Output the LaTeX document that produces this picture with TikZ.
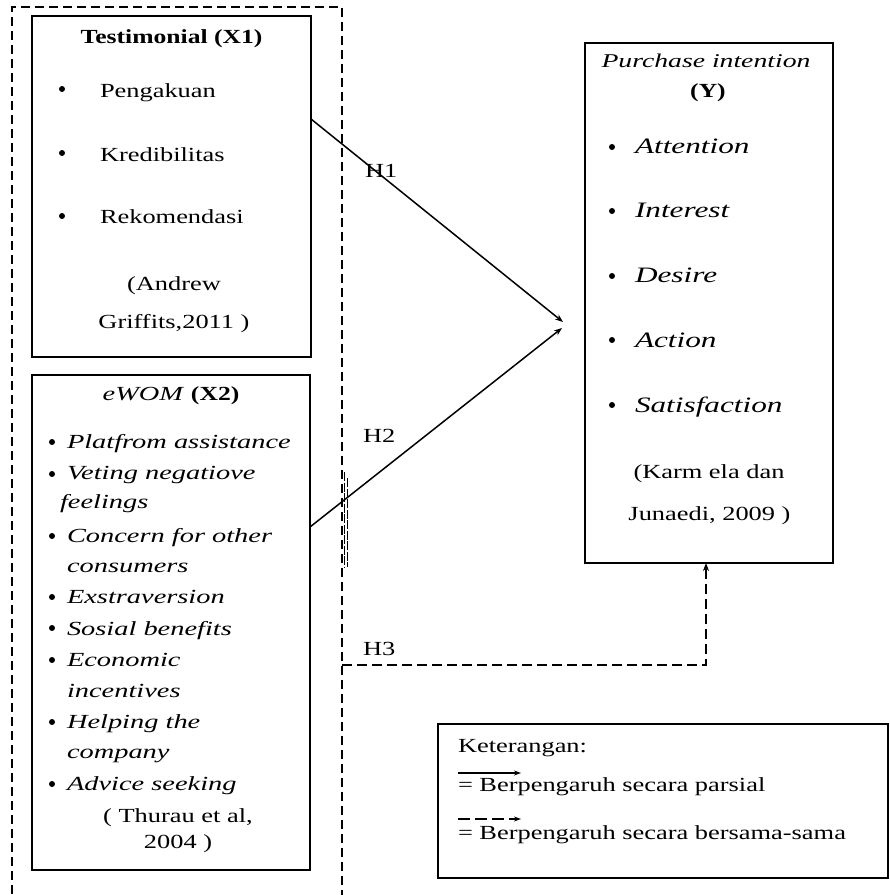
\documentclass[tikz,border=0pt]{standalone}
\usepackage{fontspec}
\setmainfont{Liberation Serif}[UprightFeatures={FakeStretch=1.32},BoldFeatures={FakeStretch=1.28},ItalicFeatures={FakeStretch=1.42}]
\usetikzlibrary{arrows.meta}
\begin{document}
\begin{tikzpicture}[x=1pt,y=-1pt,
  every node/.style={font=\fontsize{20}{24}\selectfont, inner sep=0pt, outer sep=0pt},
  box/.style={draw, line width=1.6pt, rectangle},
  outerbox/.style={draw, line width=1.5pt, dash pattern=on 9pt off 5pt, rectangle},
  tl/.style={anchor=base west},
  tc/.style={anchor=base},
  bul/.style={circle, fill, minimum size=6pt},
  conn/.style={line width=1.5pt, -{Stealth[length=8pt,width=6pt]}},
  dconn/.style={line width=1.5pt, dash pattern=on 10pt off 5pt, -{Stealth[length=8pt,width=6pt]}},
  big/.style={font=\fontsize{22}{26}\selectfont}
]
\useasboundingbox (0,0) rectangle (890,895);
\fill[white] (0,0) rectangle (890,895);

% boxes
\node[outerbox, minimum width=330pt, minimum height=898pt] (O) at (177,456) {};
\node[box, minimum width=279pt, minimum height=341pt] (T) at (171.5,186.5) {};
\node[box, minimum width=278pt, minimum height=495pt] (E) at (171,622.5) {};
\node[box, minimum width=248pt, minimum height=520pt] (Y) at (709,303) {};
\node[box, line width=1.8pt, minimum width=450pt, minimum height=154pt] (L) at (663,801) {};

% Testimonial box
\node[tc] (t0) at (171.5,43) {\textbf{Testimonial (X1)}};
\node[bul] (tb1) at (62,89) {};
\node[bul] (tb2) at (62,153) {};
\node[bul] (tb3) at (62,216) {};
\node[tl] (t1) at (100,97) {Pengakuan};
\node[tl] (t2) at (100,161) {Kredibilitas};
\node[tl] (t3) at (100,223) {Rekomendasi};
\node[tc] (t4) at (174,290) {(Andrew};
\node[tc] (t5) at (174,328) {Griffits,2011 )};

% eWOM box
\node[tc] (e0) at (171,400) {\textit{eWOM} \textbf{(X2)}};
\node[bul] (eb1) at (52,442) {};
\node[bul] (eb2) at (52,474) {};
\node[bul] (eb3) at (52,536) {};
\node[bul] (eb4) at (52,597) {};
\node[bul] (eb5) at (52,628) {};
\node[bul] (eb6) at (52,660) {};
\node[bul] (eb7) at (52,722) {};
\node[bul] (eb8) at (52,784) {};
\node[tl] (e1) at (67,448) {\itshape Platfrom assistance};
\node[tl] (e2) at (67,479) {\itshape Veting negatiove};
\node[tl] (e3) at (60,508) {\itshape feelings};
\node[tl] (e4) at (67,542) {\itshape Concern for other};
\node[tl] (e5) at (67,572) {\itshape consumers};
\node[tl] (e6) at (67,603) {\itshape Exstraversion};
\node[tl] (e7) at (67,635) {\itshape Sosial benefits};
\node[tl] (e8) at (67,666) {\itshape Economic};
\node[tl] (e9) at (67,697) {\itshape incentives};
\node[tl] (e10) at (67,728) {\itshape Helping the};
\node[tl] (e11) at (67,758) {\itshape company};
\node[tl] (e12) at (67,790) {\itshape Advice seeking};
\node[tc] (e13) at (178,822) {( Thurau et al,};
\node[tc] (e14) at (178,848) {2004 )};

% Purchase intention box
\node[tc, font=\fontsize{19.5}{24}\selectfont] (y0) at (706,67) {\textit{Purchase intention}};
\node[tc] (y1) at (708,97) {\textbf{(Y)}};
\node[bul] (yb1) at (612,147) {};
\node[bul] (yb2) at (612,211) {};
\node[bul] (yb3) at (612,276) {};
\node[bul] (yb4) at (612,340) {};
\node[bul] (yb5) at (612,405) {};
\node[tl, big] (y2) at (635,153) {\itshape Attention};
\node[tl, big] (y3) at (635,217) {\itshape Interest};
\node[tl, big] (y4) at (635,282) {\itshape Desire};
\node[tl, big] (y5) at (635,347) {\itshape Action};
\node[tl, big] (y6) at (635,412) {\itshape Satisfaction};
\node[tc] (y7) at (709,478) {(Karm ela dan};
\node[tc] (y8) at (709.5,520) {Junaedi, 2009 )};

% hypothesis labels
\node[tl] (H1) at (365,177) {H1};
\node[tl] (H2) at (363,442) {H2};
\node[tl] (H3) at (363,655) {H3};

% connectors
\coordinate (h1a) at (311,119);
\coordinate (tip1) at (563,322);
\coordinate (h2a) at (310,527);
\coordinate (tip2) at (562,328);
\coordinate (h3a) at (342,665);
\coordinate (h3c) at (706,665);
\draw[conn] (T.east |- h1a) -- (tip1);
\draw[conn] (E.east |- h2a) -- (tip2);
\draw[dconn] (O.east |- h3a) -- (h3c) -- (Y.south -| h3c);

% small double-line artefact next to the dashed frame
\coordinate (da) at (344.5,472);
\coordinate (db) at (344.5,567);
\coordinate (dc) at (347,478);
\coordinate (dd) at (347,567);
\draw[line width=0.9pt, dash pattern=on 9pt off 1.5pt] (da) -- (db);
\draw[line width=0.9pt, dash pattern=on 9pt off 1.5pt] (dc) -- (dd);

% legend
\node[tl] (k0) at (458,752) {Keterangan:};
\coordinate (la1) at (458,773);
\coordinate (la2) at (521,773);
\draw[line width=1.3pt, -{Stealth[length=7pt,width=5pt]}] (la1) -- (la2);
\node[tl] (k1) at (458,791) {= Berpengaruh secara parsial};
\coordinate (lb1) at (458,819);
\coordinate (lb2) at (521,819);
\draw[line width=1.3pt, dash pattern=on 12pt off 5pt, -{Stealth[length=7pt,width=5pt]}] (lb1) -- (lb2);
\node[tl] (k2) at (458,839) {= Berpengaruh secara bersama-sama};
\end{tikzpicture}
\end{document}
